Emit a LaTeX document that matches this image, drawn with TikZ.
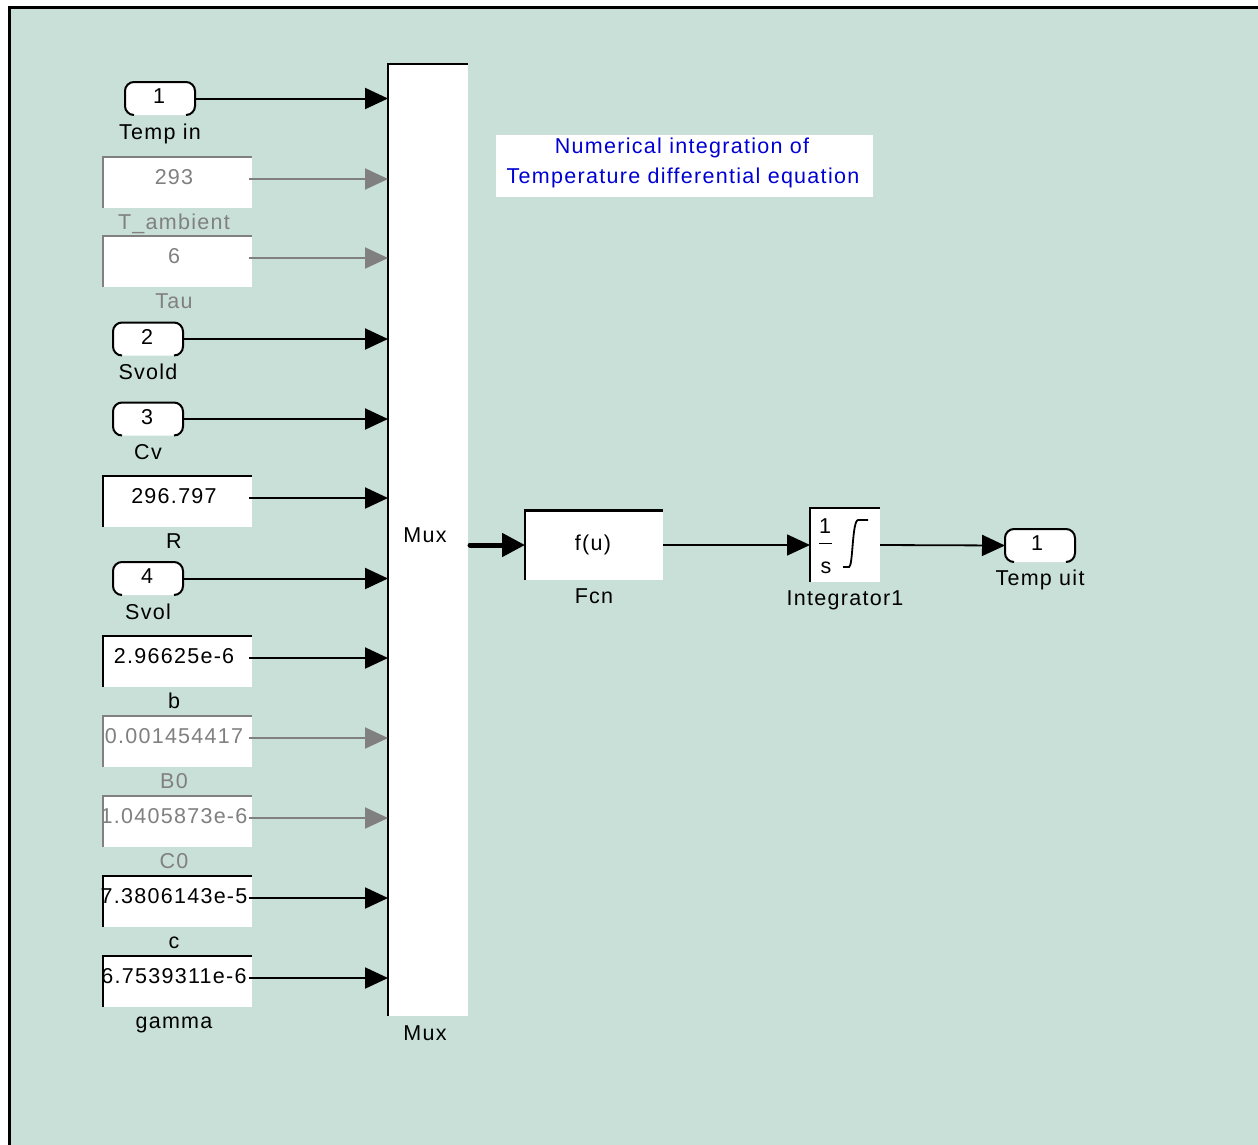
\documentclass[tikz,border=0pt]{standalone}
\usepackage{fontspec}
\setmainfont{Liberation Sans}[LetterSpace=6]
\usetikzlibrary{arrows.meta}
\definecolor{bg}{RGB}{201,224,216}
\definecolor{dim}{RGB}{128,128,128}
\definecolor{annblue}{RGB}{0,0,210}
% block edge: only top and left sides are drawn
\newcommand\tlframe[2]{\draw[line width=2.2pt,#2] (#1.south west) -- (#1.north west) -- (#1.north east);}
% port outline: rounded ends, open at the bottom
\newcommand\portframe[1]{\draw[line width=2pt,rounded corners=9pt] ([xshift=9pt]#1.south west) -- (#1.south west) -- (#1.north west) -- (#1.north east) -- (#1.south east) -- ([xshift=-9pt]#1.south east);}
\begin{document}
\begin{tikzpicture}[x=1pt,y=-1pt,font=\fontsize{21.5}{25}\selectfont,
  blk/.style={fill=white,inner sep=0pt,outer sep=0pt},
  const/.style={blk,minimum width=149pt,minimum height=51pt},
  port/.style={fill=white,rounded corners=9pt,inner sep=0pt,outer sep=0pt,minimum width=70pt,minimum height=33pt},
  lbl/.style={anchor=base,inner sep=0pt,outer sep=0pt},
  sig/.style={line width=2pt,-{Triangle[length=23pt,width=21pt]}},
  dsig/.style={sig,color=dim}]
\useasboundingbox (0,0) rectangle (1258,1144);
% model canvas
\draw[line width=3pt,fill=bg] (9.5,7.5) rectangle (1262,1170);

% Mux
\node[blk,minimum width=80pt,minimum height=952pt] (mux) at (428,540) {};
\tlframe{mux}{black}
\node[lbl] (muxin) at (425,542) {Mux};
\node[lbl] (muxlbl) at (425,1040) {Mux};

% inports
\node[port] (in1) at (160,98.5) {};
\node[port] (in2) at (148,339) {};
\node[port] (in3) at (148,419) {};
\node[port] (in4) at (148,578.5) {};
\foreach \n/\v/\t in {in1/1/Temp in,in2/2/Svold,in3/3/Cv,in4/4/Svol}{
  \portframe{\n}
  \node[lbl] (\n num) at ([xshift=-1pt,yshift=-5pt]\n.center) {\v};
  \node[lbl] (\n lbl) at ([yshift=-24pt]\n.south) {\t};
}

% constants
\node[const] (k1) at (177.5,182.5) {};
\node[const] (k2) at (177.5,261.5) {};
\node[const] (k3) at (177.5,501.5) {};
\node[const] (k4) at (177.5,661.5) {};
\node[const] (k5) at (177.5,741.5) {};
\node[const] (k6) at (177.5,821.5) {};
\node[const] (k7) at (177.5,901.5) {};
\node[const] (k8) at (177.5,981.5) {};
\foreach \n/\v/\t/\c in {k1/293/T\_ambient/dim,k2/6/Tau/dim,k3/296.797/R/black,
    k4/2.96625e-6/b/black,k5/0.001454417/B0/dim,k6/1.0405873e-6/C0/dim,
    k7/7.3806143e-5/c/black,k8/6.7539311e-6/gamma/black}{
  \coordinate (\n p) at ([xshift=-3pt,yshift=-22pt]\n.north east);
  \node[lbl,text=\c] (\n val) at ([xshift=-3.5pt,yshift=-27pt]\n.north) {\v};
  \tlframe{\n}{\c}
  \node[lbl,text=\c] (\n lbl) at ([xshift=-3.5pt,yshift=-21pt]\n.south) {\t};
}

% signals into the Mux
\foreach \n in {in1,in2,in3,in4}{\draw[sig] (\n.east) -- (\n.east -| mux.west);}
\foreach \n in {k3,k4,k7,k8}{\draw[sig] (\n p) -- (\n p -| mux.west);}
\foreach \n in {k1,k2,k5,k6}{\draw[dsig] (\n p) -- (\n p -| mux.west);}

% annotation
\node[blk,minimum width=377pt,minimum height=62pt] (ann) at (684.5,166) {};
\node[lbl,text=annblue] (ann1) at (682,153) {Numerical integration of};
\node[lbl,text=annblue] (ann2) at (683,183) {Temperature differential equation};

% Fcn
\node[blk,minimum width=138pt,minimum height=69pt] (fcn) at (594,545) {};
\tlframe{fcn}{black}
\node[lbl] (fcntxt) at (593,550) {f(u)};
\node[lbl] (fcnlbl) at ([yshift=-23.5pt]fcn.south) {Fcn};

% Integrator
\node[blk,minimum width=70pt,minimum height=74pt] (int) at (845,545) {};
\tlframe{int}{black}
\node[lbl] (intnum) at (825,533) {1};
\draw[line width=1.5pt] (819,543.5) -- (832,543.5);
\node[lbl] (intden) at (826,573) {s};
\draw[line width=1.8pt] (843,567) -- (849,567) .. controls (853,567) and (852,521) .. (858,520) -- (868,520);
\node[lbl] (intlbl) at ([yshift=-23pt]int.south) {Integrator1};

% outport
\node[port] (out) at (1040,545.5) {};
\portframe{out}
\node[lbl] (outnum) at (1037,550) {1};
\node[lbl] (outlbl) at ([yshift=-23pt]out.south) {Temp uit};

% signals after the Mux
\coordinate (muxout) at ([xshift=2pt]mux.east);
\draw[line width=5pt,line cap=round,-{Triangle[length=23pt,width=23pt]}] (muxout |- fcn.west) -- (fcn.west);
\draw[line width=1.6pt,-{Triangle[length=23pt,width=21pt]}] (fcn.east) -- (int.west);
\draw[line width=1.8pt,-{Triangle[length=23pt,width=21pt]}] (int.east) -- (out.west);
\end{tikzpicture}
\end{document}
